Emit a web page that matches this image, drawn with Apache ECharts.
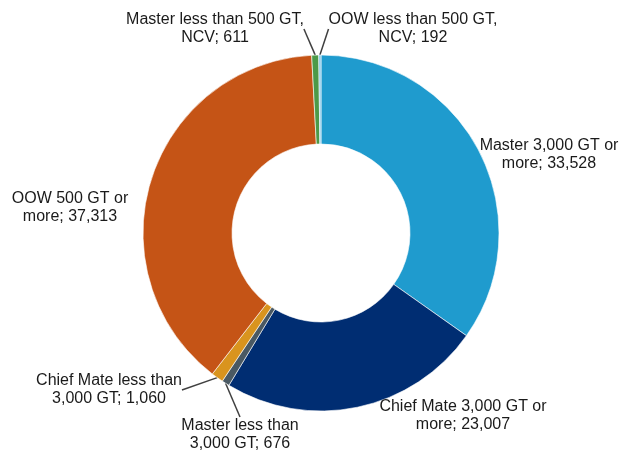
<!DOCTYPE html>
<html>
<head>
<meta charset="utf-8">
<script src="https://cdn.jsdelivr.net/npm/echarts@6/dist/echarts.min.js"></script>
<style>html,body{margin:0;padding:0;background:#fff;}#c{width:621px;height:452px;}</style>
</head>
<body>
<div id="c"></div>
<script>
var categories = ["Master 3,000 GT or\nmore", "Chief Mate 3,000 GT or\nmore", "Master less than\n3,000 GT", "Chief Mate less than\n3,000 GT", "OOW 500 GT or\nmore", "Master less than 500 GT,\nNCV", "OOW less than 500 GT,\nNCV"];
var values = [33528, 23007, 676, 1060, 37313, 611, 192];
var colors = ["#1F9BCE", "#002D72", "#4A5963", "#D9941E", "#C55416", "#4C9A48", "#84C6E8"];
var showLeader = [false, false, true, true, false, true, true];
var labelPos = [[549, 155], [463, 416], [240, 435], [109, 390], [70, 208], [215, 29], [413, 29]];

var chart = echarts.init(document.getElementById('c'), null, {renderer: 'canvas'});
chart.setOption({
  animation: false,
  series: [{
    type: 'pie',
    center: [321, 233],
    radius: [89, 178],
    startAngle: 90,
    clockwise: true,
    avoidLabelOverlap: false,
    itemStyle: {borderColor: '#ffffff', borderWidth: 0.6},
    label: {
      show: true,
      position: 'outside',
      fontFamily: 'Liberation Sans, Arial, sans-serif',
      fontSize: 16,
      color: '#1a1a1a',
      lineHeight: 18,
      align: 'center',
      formatter: function (p) {
        return p.name + '; ' + p.value.toLocaleString('en-US');
      }
    },
    labelLine: {show: true, length: 0, length2: 0, smooth: false, lineStyle: {color: '#404040', width: 1.5}},
    labelLayout: function (p) {
      var pos = labelPos[p.dataIndex];
      return {x: pos[0], y: pos[1], align: 'center', verticalAlign: 'middle'};
    },
    data: categories.map(function (c, i) {
      return {
        name: c,
        value: values[i],
        itemStyle: {color: colors[i]},
        labelLine: {show: showLeader[i]}
      };
    })
  }]
});
</script>
</body>
</html>
